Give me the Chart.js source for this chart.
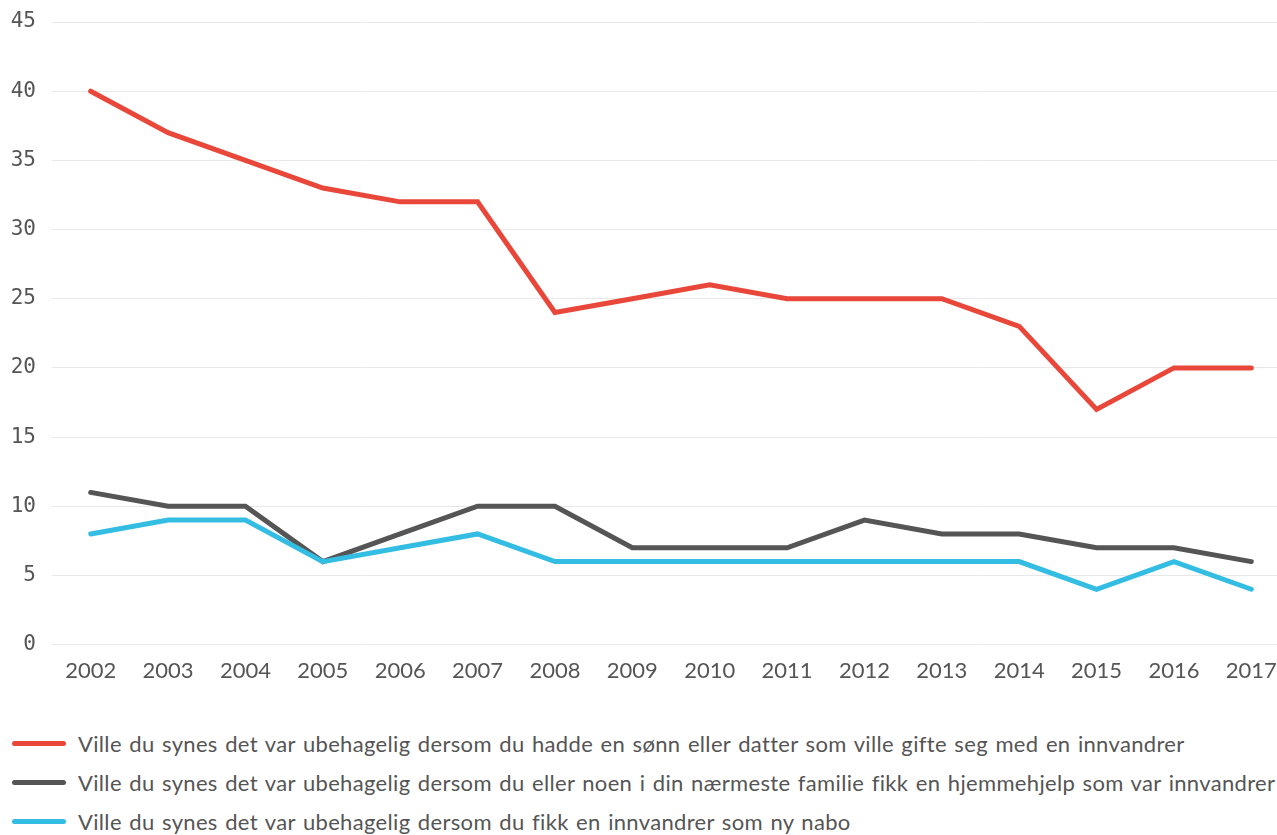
<!DOCTYPE html>
<html>
<head>
<meta charset="utf-8">
<script src="https://cdn.jsdelivr.net/npm/chart.js@4"></script>
<style>
  html, body { margin: 0; padding: 0; background: #fff; overflow: hidden; }
  #wrap { position: relative; width: 1290px; height: 708px; }
  #legend { position: absolute; left: 12px; top: 724px; font-family: Lato, sans-serif; font-size: 22px; letter-spacing: 0.33px; word-spacing: 1.5px; color: #555; }
  .lg-row { display: flex; align-items: center; height: 39px; white-space: nowrap; }
  .lg-line { width: 54px; height: 5px; border-radius: 3px; margin-right: 12px; flex: none; }
</style>
</head>
<body>
<div id="wrap"><canvas id="c"></canvas></div>
<div id="legend"></div>
<script>
// ─── Data ───
const years = ['2002','2003','2004','2005','2006','2007','2008','2009','2010','2011','2012','2013','2014','2015','2016','2017'];
const sonnDatter = [40, 37, 35, 33, 32, 32, 24, 25, 26, 25, 25, 25, 23, 17, 20, 20];
const hjemmehjelp = [11, 10, 10, 6, 8, 10, 10, 7, 7, 7, 9, 8, 8, 7, 7, 6];
const nabo = [8, 9, 9, 6, 7, 8, 6, 6, 6, 6, 6, 6, 6, 4, 6, 4];
const seriesLabels = [
    'Ville du synes det var ubehagelig dersom du hadde en sønn eller datter som ville gifte seg med en innvandrer',
    'Ville du synes det var ubehagelig dersom du eller noen i din nærmeste familie fikk en hjemmehjelp som var innvandrer',
    'Ville du synes det var ubehagelig dersom du fikk en innvandrer som ny nabo'
];
const seriesColors = ['#e8473a', '#555555', '#33bde3'];

const mkSet = (i, data, order) => ({
    label: seriesLabels[i], data, order,
    borderColor: seriesColors[i], backgroundColor: seriesColors[i],
    borderWidth: 5, borderCapStyle: 'round', borderJoinStyle: 'miter',
    pointRadius: 0, tension: 0, fill: false
});

new Chart(document.getElementById('c'), {
    type: 'line',
    data: { labels: years, datasets: [mkSet(0, sonnDatter, 2), mkSet(1, hjemmehjelp, 1), mkSet(2, nabo, 0)] },
    options: {
        responsive: true, maintainAspectRatio: false, animation: false,
        layout: { padding: { top: 22, bottom: 19, left: 0, right: 0 } },
        plugins: { legend: { display: false }, tooltip: { enabled: false } },
        scales: {
            x: {
                offset: true,
                grid: { display: false }, border: { display: false },
                ticks: { color: '#555', padding: 5, maxRotation: 0, font: { family: 'Lato', size: 22 } }
            },
            y: {
                min: 0, max: 45,
                afterFit: s => { s.width = 52; s.paddingTop = 0; s.paddingBottom = 0; },
                grid: { color: '#e8e8e8', lineWidth: 1, drawTicks: false },
                border: { display: false },
                ticks: { stepSize: 5, color: '#555', padding: 16, font: { family: "'DejaVu Sans Mono'", size: 21 } }
            }
        }
    }
});

// ─── Legend ───
const lg = document.getElementById('legend');
seriesLabels.forEach((t, i) => {
    const row = document.createElement('div');
    row.className = 'lg-row';
    row.innerHTML = '<span class="lg-line" style="background:' + seriesColors[i] + '"></span><span>' + t + '</span>';
    lg.appendChild(row);
});
</script>
</body>
</html>
